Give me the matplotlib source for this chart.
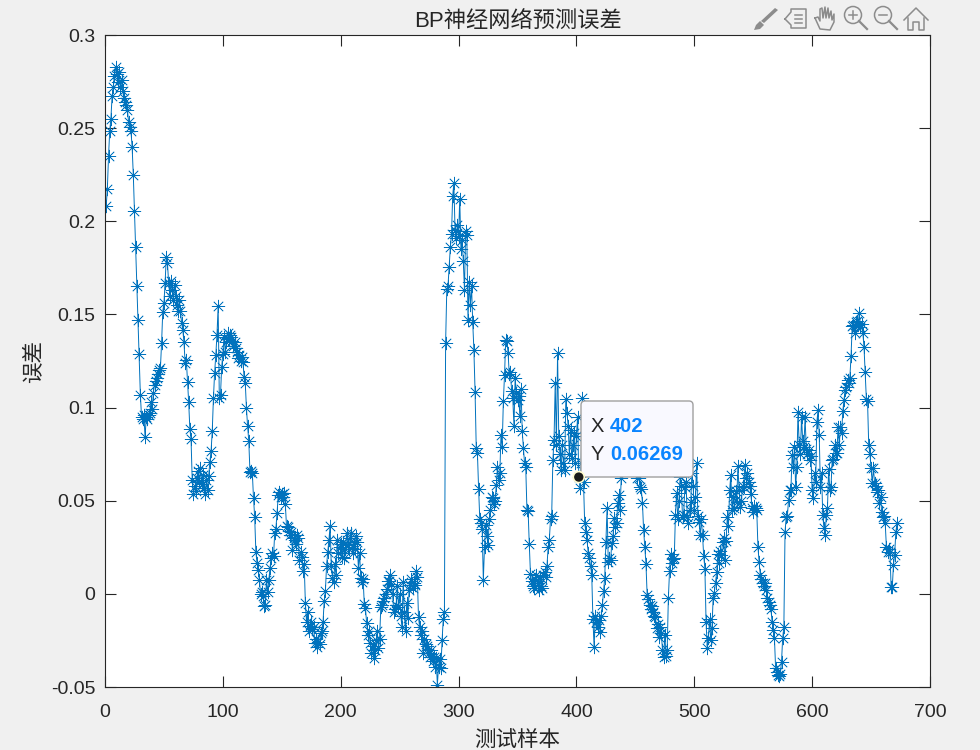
import numpy as np
import matplotlib
matplotlib.use("Agg")
import matplotlib.pyplot as plt
from matplotlib.patches import Circle, FancyBboxPatch, Polygon

# Prediction error, one list per hundred samples
err_001 = [
    .208, .2175, .235, .2485, .255, .267, .272, .278, .283, .279,
    .275, .280, .272, .276, .270, .266, .264, .2625, .260, .2535,
    .2505, .2485, .240, .225, .2055, .186, .165, .147, .129, .107,
    .095, .094, .096, .084, .095, .094, .096, .097, .103, .099,
    .108, .112, .114, .116, .118, .120, .121, .1345, .1515, .156,
    .167, .181, .1775, .167, .160, .168, .163, .158, .166, .160,
    .155, .152, .158, .152, .1455, .1417, .135, .124, .1255, .1137,
    .103, .0885, .0832, .0610, .0536, .058, .055, .062, .066, .060,
    .0676, .059, .064, .057, .0536, .061, .056, .0633, .071, .0766,
    .0875, .105, .1186, .128, .139, .1545, .105, .107, .1217, .129,
]
err_101 = [
    .138, .130, .135, .140, .137, .139, .138, .136, .133, .135,
    .132, .130, .1266, .128, .125, .127, .1245, .1165, .1134, .0998,
    .090, .082, .0654, .0660, .0650, .0515, .0413, .0226, .0166, .0130,
    .0075, .000, .0010, -.0010, -.0065, -.006, .0075, .0010, .0075, .0138,
    .0193, .022, .0205, .0325, .035, .0435, .053, .0547, .052, .0535,
    .052, .054, .0482, .0364, .036, .034, .0316, .033, .0235, .030,
    .029, .027, .0316, .030, .018, .0225, .020, .0121, .016, -.0047,
    -.015, -.0097, -.020, -.017, -.015, -.019, -.018, -.0265, -.024, -.0285,
    -.026, -.027, -.021, -.020, -.015, -.0036, .0015, .0152, .0225, .029,
    .0364, .015, .0085, .0066, .016, .010, .029, .022, .025, .027,
]
err_201 = [
    .020, .028, .019, .024, .0325, .026, .024, .030, .0325, .022,
    .027, .024, .031, .028, .0137, .022, .0085, .0062, .008, -.0055,
    -.0077, -.0157, -.022, -.020, -.0265, -.0318, -.028, -.0344, -.030, -.025,
    -.020, -.029, -.024, -.0072, -.006, -.004, -.002, .000, .0025, .007,
    .007, .0101, .0055, .000, -.010, -.008, -.006, .004, -.007, .000,
    -.012, -.018, .0066, -.010, -.020, -.005, -.013, .002, .005, .008,
    .003, .006, .005, .0121, .009, -.0125, -.018, -.022, -.020, -.0318,
    -.024, -.027, -.028, -.030, -.032, -.034, -.030, -.036, -.034, -.039,
    -.0344, -.0489, -.039, -.035, -.040, -.025, -.0135, -.0095, .1347, .1635,
    .165, .1756, .186, .193, .2136, .2205, .1953, .191, .198, .192,
]
err_301 = [
    .212, .185, .190, .1787, .1632, .195, .1926, .147, .1676, .155,
    .165, .1458, .131, .1085, .0781, .0755, .0565, .040, .038, .035,
    .0075, .025, .037, .031, .026, .040, .045, .052, .0515, .048,
    .050, .0585, .068, .0611, .065, .0853, .079, .1035, .1175, .1363,
    .136, .1293, .118, .1193, .109, .105, .090, .116, .108, .104,
    .1062, .0955, .110, .0875, .0783, .0703, .068, .045, .0445, .0265,
    .0106, .007, .004, .003, .008, .010, .006, .002, .009, .004,
    .003, .010, .012, .009, .015, .025, .029, .040, .042, .0718,
    .0826, .1132, .080, .1295, .0848, .075, .0665, .080, .070, .0665,
    .1046, .097, .090, .075, .088, .0728, .080, .0865, .070, .085,
]
err_401 = [
    .095, .06269, .0568, .070, .1051, .060, .038, .0334, .029, .0218,
    .0192, .015, .010, -.0137, -.0285, -.012, -.0150, -.018, -.014, -.0203,
    -.012, -.0062, .0014, .0087, .028, .0462, .0173, .019, .018, .0273,
    .031, .0408, .036, .038, .0487, .053, .045, .0622, .066, .070,
    .075, .082, .080, .088, .078, .072, .085, .075, .068, .070,
    .062, .066, .0622, .0576, .0564, .049, .0343, .025, .0161, -.0006,
    -.003, -.006, -.008, -.0066, -.010, -.012, -.0124, -.0185, -.016, -.0232,
    -.0178, -.021, -.030, -.0337, -.022, -.0335, -.030, -.0022, .0121, .0215,
    .0165, .0185, .019, .0425, .054, .040, .050, .0627, .058, .0413,
    .0425, .0575, .060, .0413, .038, .045, .0493, .065, .058, .045,
]
err_501 = [
    .052, .0704, .042, .0387, .0316, .040, .0316, .0202, .0135, -.0152,
    -.0291, -.0235, -.0137, -.025, -.0185, -.002, .0006, .006, .0115, .0215,
    .0165, .023, .021, .028, .030, .018, .0285, .0413, .0365, .0557,
    .0638, .045, .052, .0461, .055, .0495, .0687, .056, .0466, .050,
    .058, .0574, .0692, .062, .065, .060, .058, .0535, .046, .044,
    .047, .0461, .045, .0253, .017, .0102, .008, .0059, .004, .006,
    .002, -.002, -.0043, -.006, -.008, -.015, -.0194, -.0237, -.0398, -.042,
    -.0435, -.044, -.0428, -.0366, -.0237, -.0178, .0334, .0413, .042, .0504,
    .0557, .056, .0745, .068, .0789, .0574, .068, .0976, .080, .075,
    .095, .082, .0789, .095, .078, .075, .0772, .072, .074, .0557,
]
err_601 = [
    .0515, .0649, .060, .0923, .0986, .0853, .0574, .0649, .0423, .0354,
    .0316, .0423, .0461, .067, .0557, .0574, .072, .0725, .080, .0755,
    .0755, .0896, .080, .0896, .0863, .098, .1041, .1094, .111, .1148,
    .113, .116, .1277, .144, .1443, .140, .146, .1465, .1445, .1508,
    .143, .145, .140, .1325, .1191, .1046, .1035, .080, .0751, .0676,
    .0595, .0676, .0595, .058, .0547, .056, .0487, .052, .0439, .0413,
    .042, .0379, .0252, .0225, .024, .0225, .0037, .0037, .0155, .0209,
    .0332, .0378,
]
err_lists = [err_001, err_101, err_201, err_301, err_401, err_501, err_601]
list_starts = [1, 101, 201, 301, 401, 501, 601]

tip_x = 402
tip_y = 0.06269

x_ticks = [0, 100, 200, 300, 400, 500, 600, 700]
y_ticks = [-0.05, 0, 0.05, 0.1, 0.15, 0.2, 0.25, 0.3]
y_tick_labels = ["-0.05", "0", "0.05", "0.1", "0.15", "0.2", "0.25", "0.3"]

plt.rcParams["font.family"] = ["Liberation Sans", "Noto Sans CJK SC"]

W, H = 980, 750
fig = plt.figure(figsize=(W / 100, H / 100), dpi=100, facecolor="#F0F0F0")
ax = fig.add_axes([105 / W, 1 - 687 / H, 825 / W, 652 / H])

dark = "#262626"
blue = "#0072BD"

x = np.concatenate([s + np.arange(len(v)) for s, v in zip(list_starts, err_lists)])
y = np.concatenate(err_lists)
ax.plot(x, y, color=blue, linewidth=0.7, marker=(8, 2, 0), markersize=9.5,
        markeredgewidth=0.5, markeredgecolor=blue)

ax.set_xlim(0, 700)
ax.set_ylim(-0.05, 0.3)
ax.set_xticks(x_ticks)
ax.set_yticks(y_ticks)
ax.set_yticklabels(y_tick_labels)
ax.tick_params(direction="in", length=8, width=0.8, color=dark, labelcolor=dark,
               labelsize=14, top=True, right=True)
ax.tick_params(axis="x", pad=12)
ax.tick_params(axis="y", pad=7)
for side in ax.spines.values():
    side.set_linewidth(0.8)
    side.set_color(dark)

ax.set_title("BP神经网络预测误差", fontsize=16, color=dark, pad=6)
ax.set_xlabel("测试样本", fontsize=15.5, color=dark, labelpad=7)
ax.set_ylabel("误差", fontsize=15.5, color=dark, labelpad=5)

# Overlay in pixel coordinates for the data tip and the toolbar
over = fig.add_axes([0, 0, 1, 1], facecolor="none")
over.set_xlim(0, W)
over.set_ylim(H, 0)
over.axis("off")

over.add_patch(FancyBboxPatch((584, 404), 106, 70, boxstyle="round,pad=3,rounding_size=4",
                              facecolor="#F9F9FF", edgecolor="#A0A0A0", linewidth=1.0))
tip_blue = "#0A84FF"
over.text(591, 426, "X", fontsize=14.5, color=dark, va="center")
over.text(610, 426, str(tip_x), fontsize=14.5, color=tip_blue, fontweight="bold", va="center")
over.text(591, 454, "Y", fontsize=14.5, color=dark, va="center")
over.text(610, 454, f"{tip_y:.5f}", fontsize=14.5, color=tip_blue, fontweight="bold", va="center")

# Selected point sits above the tip box edge
ax.set_zorder(1)
over.set_zorder(2)
tip_px = ax.transData.transform((tip_x, tip_y))
tip_px = over.transData.inverted().transform(tip_px)
over.add_patch(Circle(tip_px, 5.5, facecolor="#1A1A1A", edgecolor="#FFFBD0", linewidth=1.2))

# Toolbar icons
icon = "#8C8C8C"
# brush
over.add_patch(Polygon([(775, 8), (778, 10), (764, 23), (761, 21)], facecolor=icon, edgecolor="none"))
over.add_patch(Polygon([(760, 21), (764, 25), (760, 29), (754, 30), (756, 25)], facecolor=icon, edgecolor="none"))
# legend
over.plot([785, 791, 791, 806, 806, 791, 791, 785], [19, 12, 9, 9, 28, 28, 25, 19], color=icon, lw=1.1)
over.plot([795, 802], [15, 15], color=icon, lw=1.1)
over.plot([795, 802], [19, 19], color=icon, lw=1.1)
over.plot([795, 802], [23, 23], color=icon, lw=1.1)
# hand
over.plot([815, 818, 820, 820, 822, 823, 825, 826, 828, 829, 831, 832, 834, 834, 830, 830, 820, 815],
          [18, 17, 21, 9, 8, 18, 7, 18, 8, 18, 11, 20, 14, 22, 30, 30, 29, 18], color=icon, lw=1.1)
# magnifiers
for cx, sign in [(853, True), (883, False)]:
    over.add_patch(Circle((cx, 15), 8.5, facecolor="none", edgecolor=icon, linewidth=1.1))
    over.plot([cx + 6, cx + 14], [21, 29], color=icon, lw=1.6)
    over.plot([cx - 4, cx + 4], [15, 15], color=icon, lw=1.1)
    if sign:
        over.plot([cx, cx], [11, 19], color=icon, lw=1.1)
# home
over.plot([904, 916, 928], [20, 8, 20], color=icon, lw=1.1)
over.plot([908, 908, 913, 913, 919, 919, 924, 924], [18, 30, 30, 22, 22, 30, 30, 18], color=icon, lw=1.1)

fig.savefig("out.png", dpi=100, facecolor=fig.get_facecolor())
